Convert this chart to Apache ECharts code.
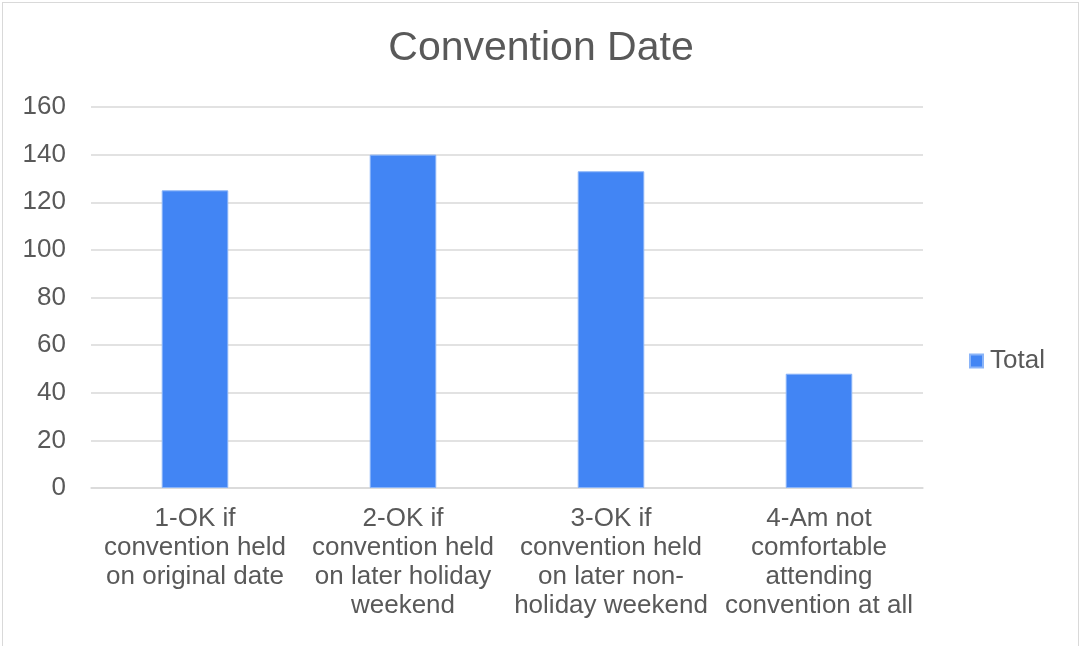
<!DOCTYPE html>
<html>
<head>
<meta charset="utf-8">
<script src="https://cdn.jsdelivr.net/npm/echarts@6/dist/echarts.min.js"></script>
<style>
html,body{margin:0;padding:0;background:#fff;}
#frame{position:absolute;left:2px;top:2px;width:1077px;height:660px;border:1px solid #d9d9d9;box-sizing:border-box;}
#chart{position:absolute;left:0;top:0;width:1082px;height:646px;}
</style>
</head>
<body>
<div id="frame"></div>
<div id="chart"></div>
<script>
const titleText = 'Convention Date';
const categories = [
  '1-OK if\nconvention held\non original date',
  '2-OK if\nconvention held\non later holiday\nweekend',
  '3-OK if\nconvention held\non later non-\nholiday weekend',
  '4-Am not\ncomfortable\nattending\nconvention at all'
];
const seriesName = 'Total';
const totals = [125, 140, 133, 48];
const yTicks = { min: 0, max: 160, interval: 20 };

const FONT = 'Liberation Sans, Arial, sans-serif';
const TXT = '#595959';
const chart = echarts.init(document.getElementById('chart'), null, {renderer: 'canvas'});
chart.setOption({
  animation: false,
  backgroundColor: 'transparent',
  title: {
    text: titleText, left: 'center', top: 23,
    textStyle: {fontFamily: FONT, fontSize: 41, fontWeight: 'normal', color: TXT}
  },
  legend: {
    data: [seriesName], orient: 'vertical', left: 964, top: 343,
    itemWidth: 13, itemHeight: 13, itemGap: 6, icon: 'rect',
    textStyle: {fontFamily: FONT, fontSize: 26, color: TXT, padding: [0,0,0,2]}
  },
  grid: {left: 91, right: 159, top: 107, bottom: 158, containLabel: false},
  xAxis: {
    type: 'category', data: categories,
    axisLine: {lineStyle: {color: '#d9d9d9', width: 1.5}},
    axisTick: {show: false},
    axisLabel: {fontFamily: FONT, fontSize: 26, color: TXT, lineHeight: 29, margin: 16, interval: 0, align: 'center'}
  },
  yAxis: {
    type: 'value', min: yTicks.min, max: yTicks.max, interval: yTicks.interval,
    axisLine: {show: false}, axisTick: {show: false},
    splitLine: {lineStyle: {color: '#d9d9d9', width: 1.5}},
    axisLabel: {fontFamily: FONT, fontSize: 26, color: TXT, margin: 25}
  },
  series: [{
    name: seriesName, type: 'bar', data: totals, barWidth: '32%',
    itemStyle: {color: '#4285F4', borderColor: '#8ab4f8', borderWidth: 1}
  }]
});
</script>
</body>
</html>
